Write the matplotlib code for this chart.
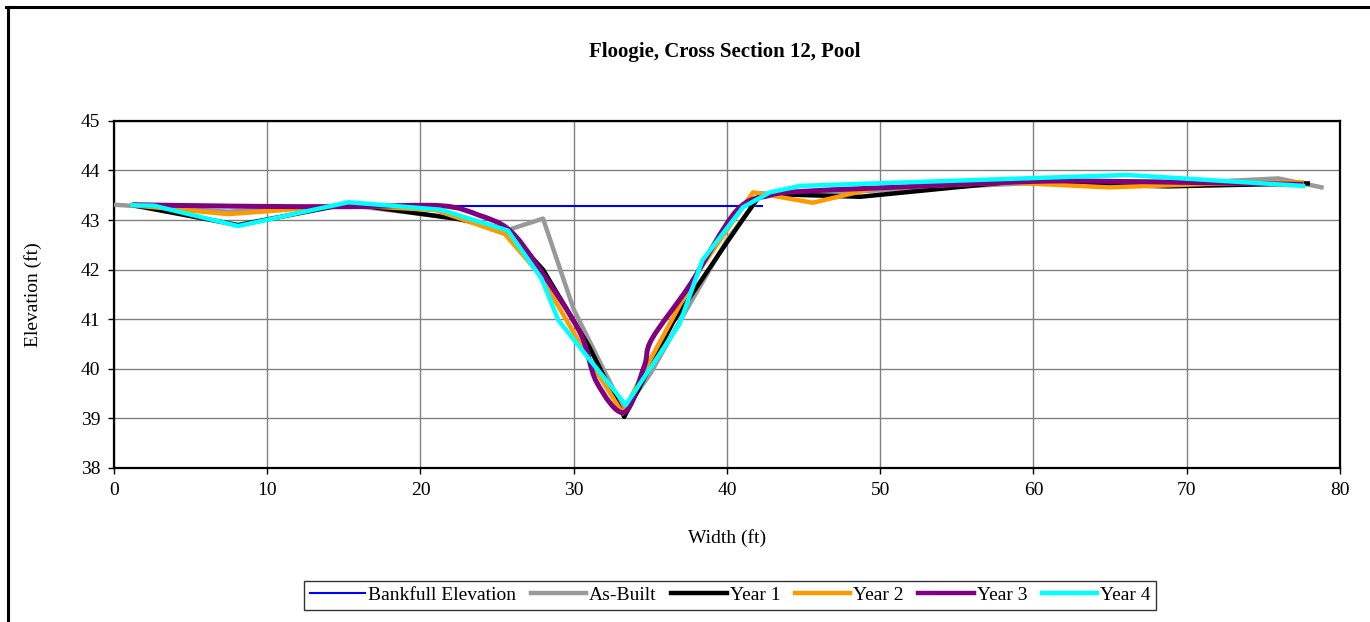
import numpy as np
import matplotlib
matplotlib.use("Agg")
import matplotlib.pyplot as plt
from matplotlib.path import Path
from matplotlib.patches import PathPatch
from matplotlib.lines import Line2D

plt.rcParams["font.family"] = ["Liberation Serif", "DejaVu Serif"]

# --------------------------------------------------
# Survey data (width ft, elevation ft)
# --------------------------------------------------
bankfull_x = [1.2, 42.3]
bankfull_y = [43.29, 43.29]

asbuilt_x = [0.0, 7.45, 15.3, 22.0, 25.7, 28.0, 30.0, 33.3, 35.0, 37.0, 40.0, 42.2, 50.0, 60.0, 70.0, 76.0, 78.8]
asbuilt_y = [43.31, 43.17, 43.30, 43.05, 42.80, 43.03, 41.20, 39.15, 39.90, 41.00, 42.60, 43.50, 43.60, 43.75, 43.75, 43.84, 43.66]

year1_x = [1.2, 8.1, 15.3, 22.5, 25.6, 28.0, 31.0, 33.3, 36.5, 40.0, 42.2, 48.7, 58.2, 68.8, 77.9]
year1_y = [43.30, 42.90, 43.33, 43.02, 42.82, 42.00, 40.45, 39.03, 40.95, 42.55, 43.53, 43.47, 43.76, 43.68, 43.74]

year2_x = [1.2, 7.45, 15.3, 21.0, 25.5, 27.8, 31.3, 33.2, 34.5, 38.0, 41.7, 45.6, 49.6, 58.2, 64.9, 71.5, 77.5]
year2_y = [43.30, 43.12, 43.30, 43.20, 42.72, 41.90, 40.04, 39.10, 39.90, 41.90, 43.56, 43.35, 43.64, 43.76, 43.66, 43.73, 43.76]

year3_x = [1.2, 8.1, 15.3, 21.3, 23.8, 25.8, 27.7, 30.4, 31.5, 33.3, 34.6, 35.1, 37.6, 40.6, 42.8, 45.0, 50.0, 60.0, 65.3, 70.0, 77.6]
year3_y = [43.31, 43.28, 43.27, 43.29, 43.10, 42.80, 42.05, 40.74, 39.73, 39.12, 40.05, 40.60, 41.70, 43.18, 43.50, 43.58, 43.65, 43.78, 43.78, 43.76, 43.72]

year4_x = [1.2, 2.6, 8.1, 15.3, 21.3, 25.7, 27.9, 29.0, 33.4, 36.9, 38.4, 41.05, 42.8, 44.8, 66.1, 77.6]
year4_y = [43.30, 43.29, 42.88, 43.36, 43.21, 42.79, 41.82, 40.98, 39.27, 40.90, 42.19, 43.26, 43.56, 43.69, 43.91, 43.69]


def smooth_path(xs, ys):
    # Catmull-Rom style bezier, like Excel's smoothed line
    pts = np.column_stack([xs, ys])
    n = len(pts)
    verts = [pts[0]]
    codes = [Path.MOVETO]
    for i in range(n - 1):
        p0 = pts[i - 1] if i > 0 else pts[i]
        p1 = pts[i]
        p2 = pts[i + 1]
        p3 = pts[i + 2] if i + 2 < n else p2
        verts += [p1 + (p2 - p0) / 6, p2 - (p3 - p1) / 6, p2]
        codes += [Path.CURVE4] * 3
    return Path(verts, codes)


# --------------------------------------------------
# Plot
# --------------------------------------------------
fig = plt.figure(figsize=(13.7, 6.22), dpi=100)
ax = fig.add_axes([0.0832, 0.2476, 0.8948, 0.558])

c_blue = "#0000FF"
c_gray = "#999999"
c_black = "#000000"
c_orange = "#FF9900"
c_purple = "#800080"
c_cyan = "#00FFFF"

ax.plot(bankfull_x, bankfull_y, color=c_blue, linewidth=1.5, zorder=3)
ax.plot(asbuilt_x, asbuilt_y, color=c_gray, linewidth=3.2, zorder=3)
ax.plot(year1_x, year1_y, color=c_black, linewidth=3.2, zorder=3)
ax.plot(year2_x, year2_y, color=c_orange, linewidth=3.2, zorder=3)
ax.add_patch(PathPatch(smooth_path(year3_x, year3_y), facecolor="none",
                       edgecolor=c_purple, linewidth=3.6, zorder=3))
ax.plot(year4_x, year4_y, color=c_cyan, linewidth=3.2, zorder=3)

ax.set_xlim(0, 80)
ax.set_ylim(38, 45)
ax.set_xticks(range(0, 81, 10))
ax.set_yticks(range(38, 46))
ax.grid(True, color="#808080", linewidth=1.0)
ax.set_axisbelow(True)
for s in ax.spines.values():
    s.set_linewidth(1.6)
    s.set_color("black")
ax.tick_params(direction="out", length=4, width=1.0, labelsize=14, pad=6)

ax.set_xlabel("Width (ft)", fontsize=14, labelpad=22)
ax.set_ylabel("Elevation (ft)", fontsize=14, labelpad=28)
fig.text(0.529, 0.916, "Floogie, Cross Section 12, Pool", ha="center", va="center",
         fontsize=15, fontweight="bold")

handles = [
    Line2D([], [], color=c_blue, linewidth=1.5),
    Line2D([], [], color=c_gray, linewidth=3.2),
    Line2D([], [], color=c_black, linewidth=3.2),
    Line2D([], [], color=c_orange, linewidth=3.2),
    Line2D([], [], color=c_purple, linewidth=3.2),
    Line2D([], [], color=c_cyan, linewidth=3.2),
]
labels = ["Bankfull Elevation", "As-Built", "Year 1", "Year 2", "Year 3", "Year 4"]
leg = fig.legend(handles, labels, loc="center", bbox_to_anchor=(0.533, 0.043), ncol=6,
                 fontsize=14, frameon=True, fancybox=False, handlelength=2.85,
                 handletextpad=0.15, columnspacing=0.75, borderpad=0.3)
leg.get_frame().set_edgecolor("black")
leg.get_frame().set_linewidth(1.0)

# chart-area border (top and left edges visible)
fig.add_artist(Line2D([7.5 / 1370, 7.5 / 1370], [0, 1 - 6.5 / 622], color="black",
                      linewidth=2.2, transform=fig.transFigure))
fig.add_artist(Line2D([6 / 1370, 1], [1 - 6.5 / 622, 1 - 6.5 / 622], color="black",
                      linewidth=2.2, transform=fig.transFigure))

fig.savefig("out.png", dpi=100)
